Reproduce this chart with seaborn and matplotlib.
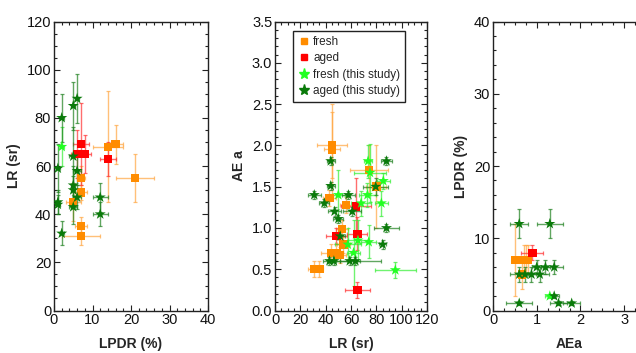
import matplotlib
matplotlib.use("Agg")
import matplotlib.pyplot as plt
from matplotlib import font_manager
from matplotlib.lines import Line2D
from matplotlib.ticker import MultipleLocator, FormatStrFormatter
import seaborn as sns
import pandas as pd

# ---------------- data ----------------
groups = ["fresh", "aged", "fresh (this study)", "aged (this study)"]
colors = {"fresh": "#FF8C00", "aged": "#FF0000",
          "fresh (this study)": "#22FF22", "aged (this study)": "#0A7A0A"}
ecolors = {"fresh": "#FFA640", "aged": "#FF3030",
           "fresh (this study)": "#33EE33", "aged (this study)": "#1E801E"}

# Panel 1: LPDR (%) vs LR (sr)
p1_group = (["fresh"] * 8 + ["aged"] * 4 + ["fresh (this study)"] * 1 +
            ["aged (this study)"] * 15)
p1_x = [14, 16, 21, 7, 7, 5, 7, 7,
        7, 6, 8, 14,
        2,
        2, 6, 5, 1, 1, 1, 2, 5, 6, 5, 5, 6, 5, 12, 12]
p1_y = [68, 69, 55, 55, 49, 45, 35, 31,
        69, 65, 65, 63,
        68,
        80, 88, 85, 59, 45, 44, 32, 64, 58, 52, 50, 47, 43, 47, 40]
p1_xerr = [4, 2, 5, 1, 1.5, 2, 1.5, 5,
           2, 1.5, 1.5, 2,
           0.5,
           0.5, 0.5, 0.5, 0.5, 0.5, 0.5, 0.5, 1, 1, 0.5, 0.5, 1, 1, 2, 2]
p1_yerr = [23, 8, 10, 5, 3, 8, 4, 4,
           17, 10, 8, 7,
           8,
           10, 10, 10, 10, 5, 4, 5, 12, 6, 8, 6, 5, 7, 6, 5]

# Panel 2: LR (sr) vs AE a
p2_group = (["fresh"] * 13 + ["aged"] * 4 + ["fresh (this study)"] * 12 +
            ["aged (this study)"] * 17)
p2_x = [45, 45, 74, 80, 43, 56, 53, 54, 44.5, 48.5, 51, 31, 35,
        64, 65, 48.5, 65,
        73.5, 75, 85.5, 50, 73, 68, 84, 57.5, 65.5, 74, 62, 95,
        44, 88, 44, 79.5, 31, 58, 39, 47, 61, 50, 88, 51.5, 85, 43, 46.5, 59, 63.5]
p2_y = [2.0, 1.95, 1.70, 1.50, 1.36, 1.28, 0.99, 0.80, 0.70, 0.70, 0.67, 0.50, 0.50,
        1.26, 0.93, 0.90, 0.25,
        1.81, 1.67, 1.57, 1.40, 1.40, 1.30, 1.30, 0.80, 0.85, 0.83, 0.70, 0.49,
        1.81, 1.81, 1.51, 1.50, 1.40, 1.40, 1.30, 1.20, 1.20, 1.11, 1.00, 0.90,
        0.80, 0.60, 0.60, 0.60, 0.60]
p2_xerr = [12, 6, 15, 8, 5, 5, 5, 5, 8, 5, 5, 5, 3,
           12, 8, 8, 10,
           3, 13, 5, 5, 7, 8, 5, 10, 8, 6, 5, 16,
           3, 4, 3, 10, 5, 5, 4, 5, 7, 4, 10, 4, 3, 5, 5, 8, 20]
p2_yerr = [0.4, 0.55, 0.3, 0.5, 0.1, 0.1, 0.1, 0.1, 0.1, 0.1, 0.1, 0.1, 0.1,
           0.35, 0.2, 0.1, 0.1,
           0.2, 0.35, 0.1, 0.3, 0.15, 0.15, 0.15, 0.2, 0.25, 0.2, 0.4, 0.1,
           0.05, 0.05, 0.05, 0.1, 0.05, 0.05, 0.05, 0.05, 0.05, 0.05, 0.05, 0.05,
           0.05, 0.05, 0.05, 0.05, 0.05]

# Panel 3: AEa vs LPDR (%)
p3_group = (["fresh"] * 5 + ["aged"] * 1 + ["fresh (this study)"] * 1 +
            ["aged (this study)"] * 13)
p3_x = [0.5, 0.7, 0.75, 0.8, 0.67,
        0.9,
        1.3,
        0.6, 1.3, 1.0, 1.2, 1.4, 0.6, 0.73, 0.88, 1.07, 0.6, 1.4, 1.5, 1.8]
p3_y = [7, 7, 7, 7, 5,
        8,
        2,
        12, 12, 6, 6, 6, 5, 5, 5, 5, 1, 2, 1, 1]
p3_xerr = [0.05, 0.05, 0.05, 0.05, 0.05,
           0.25,
           0.1,
           0.2, 0.3, 0.1, 0.1, 0.2, 0.2, 0.15, 0.1, 0.2, 0.3, 0.1, 0.2, 0.2]
p3_yerr = [5, 2, 2, 2, 2,
           1,
           0.3,
           2, 2, 1, 1, 1, 1, 1, 1, 1, 0.3, 0.3, 0.3, 0.3]

# ---------------- style ----------------
sns.set_theme(style="ticks")
names = {f.name for f in font_manager.fontManager.ttflist}
narrow = "Liberation Sans Narrow" in names
fam = "Liberation Sans Narrow" if narrow else "Liberation Sans"
plt.rcParams["font.family"] = [fam, "DejaVu Sans"]
plt.rcParams["xtick.direction"] = "in"
plt.rcParams["ytick.direction"] = "in"
TICK_FS = 11.5 if narrow else 10.5

W, H = 636, 353
fig = plt.figure(figsize=(W / 100, H / 100), dpi=100)

def frac(l, r, t, b):
    return [l / W, (H - b) / H, (r - l) / W, (b - t) / H]

ax1 = fig.add_axes(frac(54, 208, 21.5, 310.5))
ax2 = fig.add_axes(frac(275, 427, 21.5, 310.5))
ax3 = fig.add_axes(frac(493, 646, 21.5, 310.5))

markers = {"fresh": "s", "aged": "s", "fresh (this study)": "*", "aged (this study)": "*"}
sizes = {"fresh": 36, "aged": 36, "fresh (this study)": 70, "aged (this study)": 70}

def panel(ax, g, x, y, xe, ye):
    df = pd.DataFrame({"x": x, "y": y, "xe": xe, "ye": ye, "group": g})
    for grp in groups:
        d = df[df.group == grp]
        if len(d):
            ax.errorbar(d.x, d.y, xerr=d.xe, yerr=d.ye, fmt="none",
                        ecolor=ecolors[grp], alpha=0.7, elinewidth=1.0,
                        capsize=1.5, capthick=0.9, zorder=2)
    sns.scatterplot(data=df, x="x", y="y", hue="group", style="group",
                    size="group", hue_order=groups, style_order=groups,
                    size_order=groups, palette=colors, markers=markers,
                    sizes=sizes, linewidth=0, legend=False, ax=ax, zorder=3)

panel(ax1, p1_group, p1_x, p1_y, p1_xerr, p1_yerr)
panel(ax2, p2_group, p2_x, p2_y, p2_xerr, p2_yerr)
panel(ax3, p3_group, p3_x, p3_y, p3_xerr, p3_yerr)

def style(ax, xlim, ylim, xmaj, xmin, ymaj, ymin, xl, yl, yfmt=None):
    ax.set_xlim(*xlim)
    ax.set_ylim(*ylim)
    ax.xaxis.set_major_locator(MultipleLocator(xmaj))
    ax.xaxis.set_minor_locator(MultipleLocator(xmin))
    ax.yaxis.set_major_locator(MultipleLocator(ymaj))
    ax.yaxis.set_minor_locator(MultipleLocator(ymin))
    if yfmt:
        ax.yaxis.set_major_formatter(FormatStrFormatter(yfmt))
    ax.tick_params(which="both", top=True, right=True, direction="in",
                   color="#222222", width=0.8)
    ax.tick_params(which="major", length=4.5, labelsize=TICK_FS, pad=2,
                   labelcolor="#111111")
    ax.tick_params(which="minor", length=2.2)
    for s in ax.spines.values():
        s.set_linewidth(1.0)
        s.set_color("#222222")
    ax.set_xlabel(xl, fontsize=10, fontweight="bold", labelpad=7)
    ax.set_ylabel(yl, fontsize=10, fontweight="bold", labelpad=4)

style(ax1, (0, 40), (0, 120), 10, 2, 20, 5, "LPDR (%)", "LR (sr)")
style(ax2, (0, 120), (0, 3.5), 20, 5, 0.5, 0.1, "LR (sr)", "AE a", "%.1f")
style(ax3, (0, 3.5), (0, 40), 1, 0.25, 10, 2, "AEa", "LPDR (%)")

handles = [Line2D([], [], linestyle="none", marker=markers[g],
                  markersize=(5 if markers[g] == "s" else 8),
                  markerfacecolor=colors[g], markeredgecolor=colors[g])
           for g in groups]
leg = ax2.legend(handles, groups, loc="upper left",
                 bbox_to_anchor=(0.118, 0.967), fontsize=8.5, frameon=True,
                 fancybox=False, edgecolor="#222222", framealpha=1,
                 borderpad=0.4, handletextpad=0.3, labelspacing=0.38,
                 handlelength=1.0, borderaxespad=0)
leg.get_frame().set_linewidth(1.0)

fig.savefig("out.png", dpi=100)
